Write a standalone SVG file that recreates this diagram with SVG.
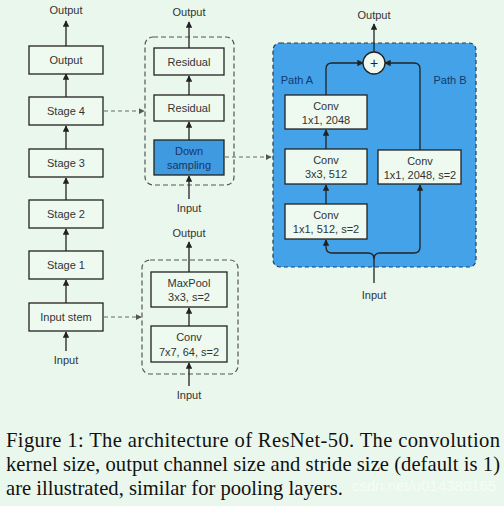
<svg xmlns="http://www.w3.org/2000/svg" width="504" height="506" viewBox="0 0 504 506">
<defs>
<marker id="ah" viewBox="0 0 8 8" refX="7" refY="4" markerWidth="5" markerHeight="5" orient="auto">
<path d="M0,0 L8,4 L0,8 z" fill="#222"/>
</marker>
<marker id="ahg" viewBox="0 0 8 8" refX="7" refY="4" markerWidth="5" markerHeight="5" orient="auto">
<path d="M0,0 L8,4 L0,8 z" fill="#555"/>
</marker>
<style>
.box{fill:#eefaf0;stroke:#222;stroke-width:1.3}
.ds{fill:#3f9ae0;stroke:#222;stroke-width:1.3}
.t{font-family:"Liberation Sans",Arial,sans-serif;font-size:11px;fill:#333;text-anchor:middle}
.tb{font-family:"Liberation Sans",Arial,sans-serif;font-size:11px;fill:#1c3563;text-anchor:middle}
.grp{fill:none;stroke:#555;stroke-width:1.2;stroke-dasharray:5,3}
.c{fill:none;stroke:#222;stroke-width:1.3}
.cd{fill:none;stroke:#666;stroke-width:1.2;stroke-dasharray:4,3}
.cap{font-family:"Liberation Serif","Times New Roman",serif;font-size:20.6px;fill:#111}
</style>
</defs>
<rect width="504" height="506" fill="#eaf7ec"/>

<g id="bottleneck">
<rect x="273" y="43" width="203" height="224" rx="7" fill="#43a2e8" stroke="#1d3f66" stroke-width="1.2" stroke-dasharray="4,3"/>
<text class="tb" x="297" y="84" style="fill:#123a70">Path A</text>
<text class="tb" x="450" y="84" style="fill:#123a70">Path B</text>
</g>

<g id="groups">
<rect class="grp" x="145" y="37" width="89" height="148" rx="8"/>
<rect class="grp" x="142" y="260" width="96" height="114" rx="8"/>
</g>

<g id="connectors">
<line class="c" x1="66" y1="46" x2="66" y2="21" marker-end="url(#ah)"/>
<line class="c" x1="66" y1="97" x2="66" y2="74" marker-end="url(#ah)"/>
<line class="c" x1="66" y1="149" x2="66" y2="126" marker-end="url(#ah)"/>
<line class="c" x1="66" y1="200" x2="66" y2="178" marker-end="url(#ah)"/>
<line class="c" x1="66" y1="251" x2="66" y2="229" marker-end="url(#ah)"/>
<line class="c" x1="66" y1="303" x2="66" y2="280" marker-end="url(#ah)"/>
<line class="c" x1="66" y1="351" x2="66" y2="332" marker-end="url(#ah)"/>
<line class="c" x1="189" y1="48" x2="189" y2="22" marker-end="url(#ah)"/>
<line class="c" x1="189" y1="95" x2="189" y2="76" marker-end="url(#ah)"/>
<line class="c" x1="189" y1="140" x2="189" y2="122" marker-end="url(#ah)"/>
<line class="c" x1="189" y1="199" x2="189" y2="176" marker-end="url(#ah)"/>
<line class="c" x1="189" y1="272" x2="189" y2="242" marker-end="url(#ah)"/>
<line class="c" x1="189" y1="326" x2="189" y2="308" marker-end="url(#ah)"/>
<line class="c" x1="189" y1="386" x2="189" y2="363" marker-end="url(#ah)"/>
<line class="cd" x1="104" y1="111" x2="144" y2="111" marker-end="url(#ahg)"/>
<line class="cd" x1="104" y1="317" x2="141" y2="317" marker-end="url(#ahg)"/>
<line class="cd" x1="225" y1="157" x2="271" y2="157" marker-end="url(#ahg)"/>
<path class="c" d="M374,283 V259 Q374,253 368,253 H332 Q326,253 326,247 V240" marker-end="url(#ah)"/>
<path class="c" d="M374,259 Q374,253 380,253 H414 Q420,253 420,247 V185" marker-end="url(#ah)"/>
<line class="c" x1="326" y1="204" x2="326" y2="185" marker-end="url(#ah)"/>
<line class="c" x1="326" y1="149" x2="326" y2="130" marker-end="url(#ah)"/>
<path class="c" d="M326,95 V69 Q326,63 332,63 H363" marker-end="url(#ah)"/>
<path class="c" d="M420,150 V69 Q420,63 414,63 H385" marker-end="url(#ah)"/>
<line class="c" x1="374" y1="52" x2="374" y2="24" marker-end="url(#ah)"/>
</g>

<g id="labels">
<text class="t" x="66" y="14">Output</text>
<text class="t" x="66" y="364">Input</text>
<text class="t" x="189" y="16">Output</text>
<text class="t" x="189" y="212">Input</text>
<text class="t" x="189" y="237">Output</text>
<text class="t" x="189" y="399">Input</text>
<text class="t" x="374" y="19">Output</text>
<text class="t" x="374" y="299">Input</text>
</g>

<g id="n-output"><rect class="box" x="29" y="46" width="74" height="28"/><text class="t" x="66" y="64">Output</text></g>
<g id="n-stage4"><rect class="box" x="29" y="97" width="74" height="28"/><text class="t" x="66" y="115">Stage 4</text></g>
<g id="n-stage3"><rect class="box" x="29" y="149" width="74" height="28"/><text class="t" x="66" y="167">Stage 3</text></g>
<g id="n-stage2"><rect class="box" x="29" y="200" width="74" height="28"/><text class="t" x="66" y="218">Stage 2</text></g>
<g id="n-stage1"><rect class="box" x="29" y="251" width="74" height="28"/><text class="t" x="66" y="269">Stage 1</text></g>
<g id="n-stem"><rect class="box" x="29" y="303" width="74" height="28"/><text class="t" x="66" y="321">Input stem</text></g>

<g id="n-res2"><rect class="box" x="154" y="48" width="70" height="27"/><text class="t" x="189" y="66">Residual</text></g>
<g id="n-res1"><rect class="box" x="154" y="95" width="70" height="26"/><text class="t" x="189" y="112">Residual</text></g>
<g id="n-down"><rect class="ds" x="154" y="140" width="70" height="35"/><text class="tb" x="189" y="155">Down</text><text class="tb" x="189" y="169">sampling</text></g>

<g id="n-maxpool"><rect class="box" x="151" y="272" width="76" height="35"/><text class="t" x="189" y="287">MaxPool</text><text class="t" x="189" y="301">3x3, s=2</text></g>
<g id="n-conv7"><rect class="box" x="151" y="326" width="76" height="36"/><text class="t" x="189" y="341">Conv</text><text class="t" x="189" y="356">7x7, 64, s=2</text></g>

<g id="n-convA3"><rect class="box" x="285" y="95" width="82" height="34"/><text class="t" x="326" y="110">Conv</text><text class="t" x="326" y="124">1x1, 2048</text></g>
<g id="n-convA2"><rect class="box" x="285" y="149" width="82" height="35"/><text class="t" x="326" y="164">Conv</text><text class="t" x="326" y="178">3x3, 512</text></g>
<g id="n-convA1"><rect class="box" x="285" y="204" width="82" height="35"/><text class="t" x="326" y="219">Conv</text><text class="t" x="326" y="233">1x1, 512, s=2</text></g>
<g id="n-convB"><rect class="box" x="378" y="150" width="83" height="34"/><text class="t" x="420" y="165">Conv</text><text class="t" x="420" y="179">1x1, 2048, s=2</text></g>
<g id="n-add"><circle cx="374" cy="63" r="11" fill="#eefaf0" stroke="#222" stroke-width="1.3"/><text x="374" y="68" style="font-family:'Liberation Sans',Arial,sans-serif;font-size:14px;fill:#222;text-anchor:middle">+</text></g>

<g id="caption">
<text class="cap" x="6" y="447" textLength="494" lengthAdjust="spacing">Figure 1: The architecture of ResNet-50. The convolution</text>
<text class="cap" x="6" y="471" textLength="494" lengthAdjust="spacing">kernel size, output channel size and stride size (default is 1)</text>
<text x="352" y="491" style="font-family:'Liberation Sans',Arial,sans-serif;font-size:15px;fill:#ffffff;opacity:0.6">csdn.net/u014380165</text>
<text class="cap" x="6" y="495">are illustrated, similar for pooling layers.</text>
</g>
</svg>
